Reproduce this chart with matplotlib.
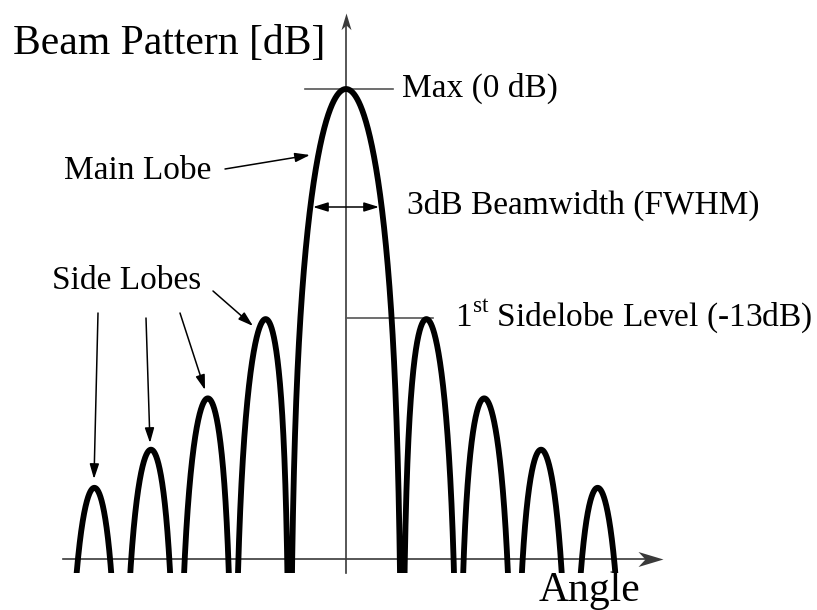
import numpy as np
import matplotlib
matplotlib.use("Agg")
import matplotlib.pyplot as plt
from matplotlib.patches import Rectangle
from matplotlib.path import Path

plt.rcParams['font.family'] = ['Liberation Serif', 'DejaVu Serif']
plt.rcParams['mathtext.fontset'] = 'custom'
plt.rcParams['mathtext.rm'] = 'Liberation Serif'

# ---------------- data ----------------
# Beam pattern of a uniform aperture, angle in units of null spacing
angle_span = (-5.0, 5.0)                 # curve drawn between the 5th nulls
sidelobe_peak_angles = [1.43, 2.46, 3.47, 4.48]
sidelobe_peak_db = [-13.3, -17.8, -20.8, -23.0]
max_db = 0.0
first_sidelobe_db = -13.2
labels = {
    "title": "Beam Pattern [dB]",
    "xlabel": "Angle",
    "max": "Max (0 dB)",
    "main": "Main Lobe",
    "bw": "3dB Beamwidth (FWHM)",
    "side": "Side Lobes",
    "sll": "1$^{\\rm st}$ Sidelobe Level (-13dB)",
}

# ---------------- layout helpers (pixel -> data) ----------------
W, H = 817, 610
X0, SX = 346.0, 56.2     # pixel of angle 0, pixels per null unit
Y0, SY = 89.0, 17.35     # pixel of 0 dB, pixels per dB


def px(x):
    return (x - X0) / SX


def py(y):
    return -(y - Y0) / SY


fig = plt.figure(figsize=(W / 100, H / 100), dpi=100)
ax = fig.add_axes([0, 0, 1, 1])
ax.set_xlim(px(0), px(W))
ax.set_ylim(py(H), py(0))
ax.axis('off')

axis_db = py(559)
floor_db = py(573)
axis_col = '#3a3a3a'

# ---------------- curve ----------------
u = np.linspace(angle_span[0], angle_span[1], 40001)
with np.errstate(divide='ignore'):
    bp = 20 * np.log10(np.abs(np.sinc(u)))
bp = np.maximum(bp, -80)
line, = ax.plot(u, bp, color='black', lw=4.2, solid_capstyle='butt',
                solid_joinstyle='round', zorder=3)
clip = Rectangle((px(0), floor_db), px(W) - px(0), py(0) - floor_db,
                 transform=ax.transData, facecolor='none', edgecolor='none')
ax.add_patch(clip)
line.set_clip_path(clip)

# ---------------- axes with arrows ----------------
ax.plot([px(63), px(650)], [axis_db, axis_db], color=axis_col, lw=1.2, zorder=2)
ax.plot([0, 0], [floor_db, py(22)], color=axis_col, lw=1.2, zorder=2)

head_x = Path([(0, 0), (-1, 0.3), (-0.72, 0), (-1, -0.3), (0, 0)],
              [Path.MOVETO, Path.LINETO, Path.LINETO, Path.LINETO, Path.CLOSEPOLY])
head_y = Path([(0, 0), (0.3, -1), (0, -0.72), (-0.3, -1), (0, 0)],
              [Path.MOVETO, Path.LINETO, Path.LINETO, Path.LINETO, Path.CLOSEPOLY])
ax.plot([px(663)], [axis_db], marker=head_x, markersize=36, color=axis_col,
        markeredgewidth=0, zorder=4)
ax.plot([0], [py(13)], marker=head_y, markersize=24, color=axis_col,
        markeredgewidth=0, zorder=4)

# ---------------- reference lines ----------------
ax.plot([px(305), px(393)], [max_db, max_db], color='#555555', lw=1.2, zorder=2)
ax.plot([0, px(433)], [first_sidelobe_db, first_sidelobe_db], color='#555555',
        lw=1.2, zorder=2)

# ---------------- text ----------------
ax.text(px(13), py(54), labels["title"], fontsize=30, ha='left', va='baseline')
ax.text(px(539), py(601), labels["xlabel"], fontsize=30, ha='left', va='baseline')
ax.text(px(402), py(97), labels["max"], fontsize=24, ha='left', va='baseline')
ax.text(px(64), py(179), labels["main"], fontsize=24, ha='left', va='baseline')
ax.text(px(407), py(214), labels["bw"], fontsize=24, ha='left', va='baseline')
ax.text(px(52), py(289), labels["side"], fontsize=24, ha='left', va='baseline')
ax.text(px(455), py(326), labels["sll"], fontsize=24, ha='left', va='baseline')

# ---------------- annotation arrows ----------------
aprops = dict(arrowstyle='-|>,head_length=0.9,head_width=0.28', lw=1.1,
              color='black', mutation_scale=10, shrinkA=0, shrinkB=0)
ax.annotate('', xy=(px(310), py(155)), xytext=(px(225), py(169)),
            arrowprops=aprops)
ax.annotate('', xy=(px(313), py(207)), xytext=(px(379), py(207)),
            arrowprops=dict(aprops, arrowstyle='<|-|>,head_length=0.9,head_width=0.28'))

# side lobe arrows: start near the label, end at the left side lobes
starts = [(98, 313), (146, 318), (180, 313), (213, 291)]
tips = [(94, 479), (150, 443), (205, 390), (253, 326)]
for (sx, sy), (tx, ty) in zip(starts, tips):
    ax.annotate('', xy=(px(tx), py(ty)), xytext=(px(sx), py(sy)),
                arrowprops=aprops)

fig.savefig('out.png', dpi=100)
